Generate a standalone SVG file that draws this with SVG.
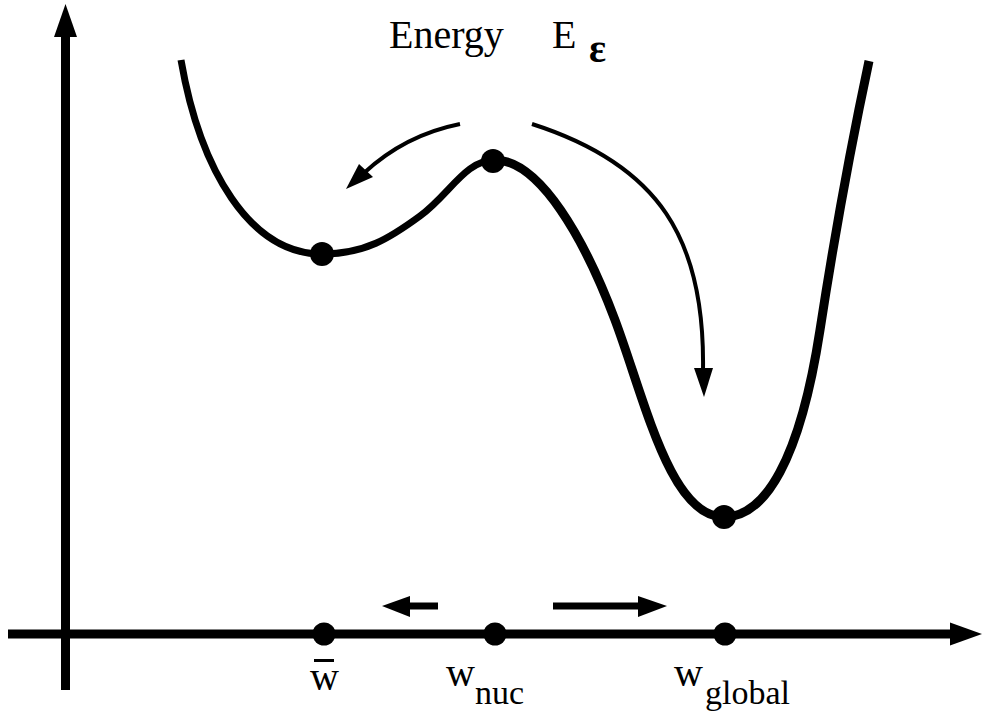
<svg xmlns="http://www.w3.org/2000/svg" width="990" height="721" viewBox="0 0 990 721">
<style>
.t{font-family:"Liberation Serif","DejaVu Serif","Times New Roman",Times,serif;fill:#000}
.curve{fill:none;stroke:#000;stroke-linejoin:round}
.arc{fill:none;stroke:#000;stroke-width:4}
.dot{fill:#000}
</style>
<rect width="990" height="721" fill="#fff"/>
<g id="axes">
<line x1="65.5" y1="690" x2="65.5" y2="34" stroke="#000" stroke-width="9"/>
<polygon points="54,37 77,37 65.5,4" fill="#000"/>
<line x1="8" y1="634" x2="952" y2="634" stroke="#000" stroke-width="9"/>
<polygon points="950,622.5 950,645.5 982,634" fill="#000"/>
</g>
<g id="energy-curve">
<path class="curve" stroke-width="7" d="M181,60 C200,170 250,254 322,254 C365,254 390,238 420,216 C450,194 465,160 495,160"/>
<path class="curve" stroke-width="9" d="M495,160 C540,160 585,240 615,320 C645,400 670,517 724,517 C765,517 800,460 820,330 C834,239 850,150 869,61"/>
</g>
<g id="title">
<text class="t" x="389" y="48" font-size="40" font-family="Liberation Serif, DejaVu Serif, serif">Energy</text>
<text class="t" x="552" y="48" font-size="40" font-family="Liberation Serif, DejaVu Serif, serif">E</text>
<text class="t" x="589" y="62" font-size="40" font-weight="bold" font-family="Liberation Serif, DejaVu Serif, serif">ε</text>
</g>
<g id="connectors">
<path class="arc" d="M460,124 Q405,135 364,173"/>
<polygon points="346,189 359,164 373,177" fill="#000"/>
<path class="arc" d="M532,124 C660,165 705,240 703,370"/>
<polygon points="704,397 694,368 713,368" fill="#000"/>
<line x1="438" y1="606" x2="408" y2="606" stroke="#000" stroke-width="7"/>
<polygon points="382,606 410,596 410,617" fill="#000"/>
<line x1="553" y1="606" x2="640" y2="606" stroke="#000" stroke-width="7"/>
<polygon points="667,606 638,596 638,617" fill="#000"/>
</g>
<g id="node-wbar">
<circle class="dot" cx="322" cy="254" r="12"/>
<circle class="dot" cx="324" cy="634" r="11.5"/>
<text class="t" x="310" y="690" font-size="40" font-family="Liberation Serif, DejaVu Serif, serif">w</text>
<rect x="314" y="659" width="20" height="3" fill="#000"/>
</g>
<g id="node-wnuc">
<circle class="dot" cx="493" cy="161" r="12"/>
<circle class="dot" cx="495" cy="634" r="11.5"/>
<text class="t" x="446" y="686" font-size="40" font-family="Liberation Serif, DejaVu Serif, serif">w</text>
<text class="t" x="475" y="704" font-size="34" font-family="Liberation Serif, DejaVu Serif, serif">nuc</text>
</g>
<g id="node-wglobal">
<circle class="dot" cx="724" cy="517" r="12"/>
<circle class="dot" cx="725" cy="634" r="11.5"/>
<text class="t" x="674" y="686" font-size="40" font-family="Liberation Serif, DejaVu Serif, serif">w</text>
<text class="t" x="705" y="704" font-size="34" font-family="Liberation Serif, DejaVu Serif, serif">global</text>
</g>
</svg>
